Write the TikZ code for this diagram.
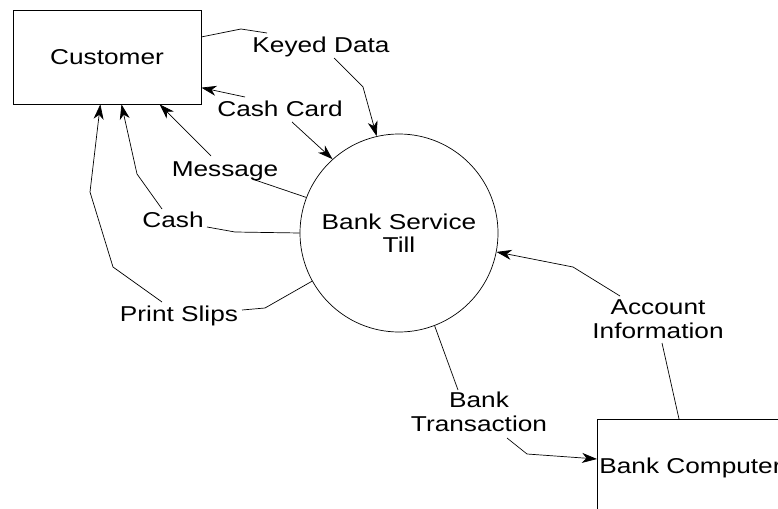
\documentclass[tikz,border=0pt]{standalone}
\usepackage{fontspec}
\setmainfont{Liberation Sans}[FakeStretch=1.22]
\usetikzlibrary{arrows.meta,calc}
\begin{document}
\begin{tikzpicture}[x=1pt,y=-1pt,
  font=\fontsize{21.5}{23.5}\selectfont,
  line width=0.7pt,
  arr/.style={-{Stealth[length=15pt,width=10pt,inset=4.5pt]}},
  lbl/.style={inner sep=0pt, anchor=base},
  mlbl/.style={inner sep=0pt, align=center, anchor=center},
  entity/.style={draw, inner sep=0pt},
  process/.style={draw, circle, inner sep=0pt, align=center}]
\useasboundingbox (0,0) rectangle (778,508);
\clip (0,0) rectangle (778,508);

% nodes
\node[entity, minimum width=188pt, minimum height=94pt] (customer) at (107,57) {Customer};
\node[process, minimum size=198pt] (till) at (399,233) {Bank Service\\Till};
\node[entity, anchor=north west, minimum width=300pt, minimum height=200pt] (bankcomp) at (597,419) {};
\node[lbl, anchor=base west] (bctext) at (599,473) {Bank Computer};

% labels
\node[lbl] (kdl) at (321,53) {Keyed Data};
\node[lbl] (ccl) at (280,117) {Cash Card};
\node[lbl] (msl) at (225,176) {Message};
\node[lbl] (csl) at (173,227) {Cash};
\node[lbl] (psl) at (179,321) {Print Slips};
\node[mlbl] (ail) at (658,319) {Account\\Information};
\node[mlbl] (btl) at (479,412) {Bank\\Transaction};

% bend coordinates
\coordinate (kd1) at (241,29); \coordinate (kd2) at (267,33);
\coordinate (kd3) at (334,58); \coordinate (kd4) at (363,87);
\coordinate (cc1) at (292,122); \coordinate (cc2) at (245,97);
\coordinate (ms1) at (255,180); \coordinate (ms2) at (211,156);
\coordinate (cs1) at (235,232); \coordinate (cs2) at (207,227);
\coordinate (cs3) at (162,209); \coordinate (cs4) at (137,174);
\coordinate (ps1) at (265,308); \coordinate (ps2) at (242,310);
\coordinate (ps3) at (162,302); \coordinate (ps4) at (113,267);
\coordinate (ps5) at (90,192);
\coordinate (ai0) at ($(bankcomp.north west)+(82,0)$);
\coordinate (ai1) at (662,343); \coordinate (ai2) at (620,296);
\coordinate (ai3) at (573,267);
\coordinate (bt1) at (458,390); \coordinate (bt2) at (507,438);
\coordinate (bt3) at (527,454);
\coordinate (bt4) at ($(bankcomp.north west)+(0,40)$);

% connectors
\draw (customer.12) -- (kd1) -- (kd2);
\draw[arr] (kd3) -- (kd4) -- (till.103);

\draw[arr] (cc1) -- (till.132);
\draw[arr] (cc2) -- (customer.-18);

\draw (till.159) -- (ms1);
\draw[arr] (ms2) -- (customer.-42);

\draw (till.180) -- (cs1) -- (cs2);
\draw[arr] (cs3) -- (cs4) -- (customer.-73);

\draw (till.209) -- (ps1) -- (ps2);
\draw[arr] (ps3) -- (ps4) -- (ps5) -- (customer.-98);

\draw (ai0) -- (ai1);
\draw[arr] (ai2) -- (ai3) -- (till.-11);

\draw (till.-69) -- (bt1);
\draw[arr] (bt2) -- (bt3) -- (bt4);
\end{tikzpicture}
\end{document}
